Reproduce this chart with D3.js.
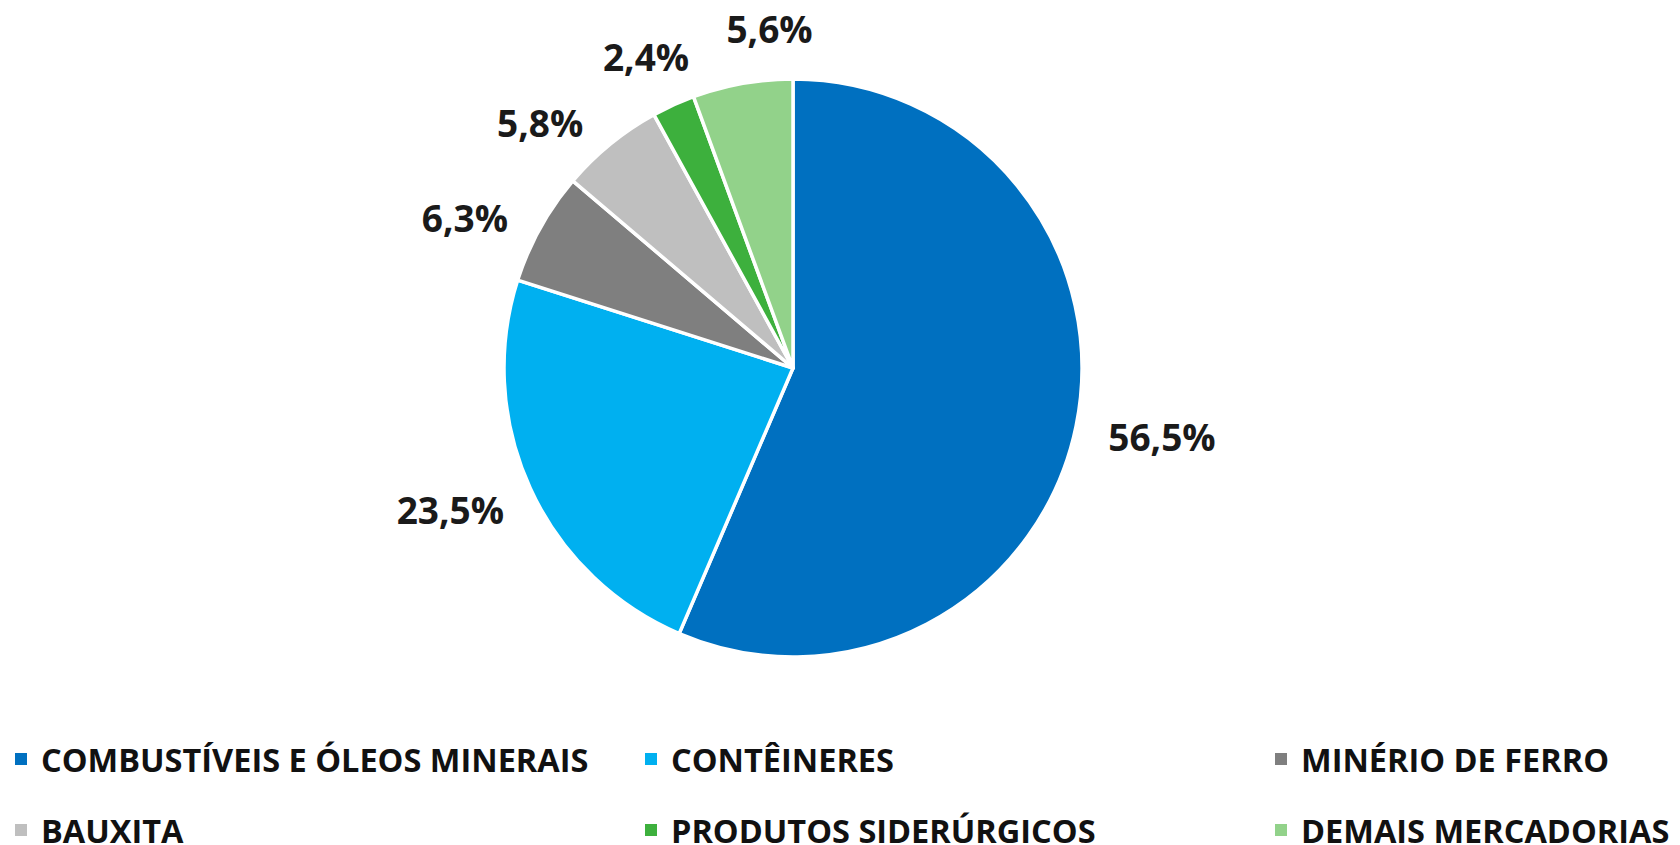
<!DOCTYPE html>
<html><head><meta charset="utf-8">
<script src="https://cdn.jsdelivr.net/npm/d3@7"></script>
<style>body{margin:0;background:#fff;} svg{display:block;}</style>
</head><body>
<svg id="c" width="1680" height="845"></svg>
<script>
const categories = ["COMBUSTÍVEIS E ÓLEOS MINERAIS","CONTÊINERES","MINÉRIO DE FERRO","BAUXITA","PRODUTOS SIDERÚRGICOS","DEMAIS MERCADORIAS"];
const values = [56.5, 23.5, 6.3, 5.8, 2.4, 5.6];
const labels = ["56,5%","23,5%","6,3%","5,8%","2,4%","5,6%"];
const colors = ["#0070C0","#00B0F0","#7F7F7F","#BFBFBF","#3DB03D","#92D28A"];

const svg = d3.select("#c");
const cx = 793, cy = 368, R = 289;
const g = svg.append("g").attr("transform", `translate(${cx},${cy})`);
const pie = d3.pie().sort(null).value(d => d)(values);
const arc = d3.arc().innerRadius(0).outerRadius(R);
g.selectAll("path").data(pie).join("path")
  .attr("d", arc).attr("fill", (d,i) => colors[i])
  .attr("stroke", "#fff").attr("stroke-width", 3.5).attr("stroke-linejoin","round");

// label angles, spread apart when too close (like the spreadsheet's overlap avoidance)
const minSep = 20 * Math.PI / 180;
let angs = pie.map(d => (d.startAngle + d.endAngle) / 2);
for (let it = 0; it < 200; it++) {
  for (let i = 0; i < angs.length - 1; i++) {
    const diff = angs[i+1] - angs[i];
    if (diff < minSep) {
      const p = (minSep - diff) / 2;
      angs[i] -= p; angs[i+1] += p;
    }
  }
}
const gap = 34;
pie.forEach((d,i) => {
  const a = angs[i];
  const dx = Math.sin(a), dy = -Math.cos(a);
  const t = g.append("text").text(labels[i])
    .attr("font-family","Open Sans").attr("font-weight","bold").attr("font-size",37)
    .attr("fill","#1a1a1a").attr("text-anchor","middle").attr("dominant-baseline","central");
  const w = t.node().getComputedTextLength(), h = 34;
  t.attr("x", dx*(R+gap) + dx*w/2).attr("y", dy*(R+gap) + dy*h/2);
});

const cols = [15, 645, 1275];
const rows = [759, 830];
const lg = svg.append("g");
categories.forEach((c,i) => {
  const x = cols[i%3], y = rows[Math.floor(i/3)];
  lg.append("rect").attr("x", x).attr("y", y-6).attr("width", 12).attr("height", 12).attr("fill", colors[i]);
  lg.append("text").attr("x", x+26).attr("y", y).text(c)
    .attr("font-family","Open Sans").attr("font-weight","bold").attr("font-size",32.5)
    .attr("fill","#111").attr("dominant-baseline","central");
});
</script>
</body></html>
